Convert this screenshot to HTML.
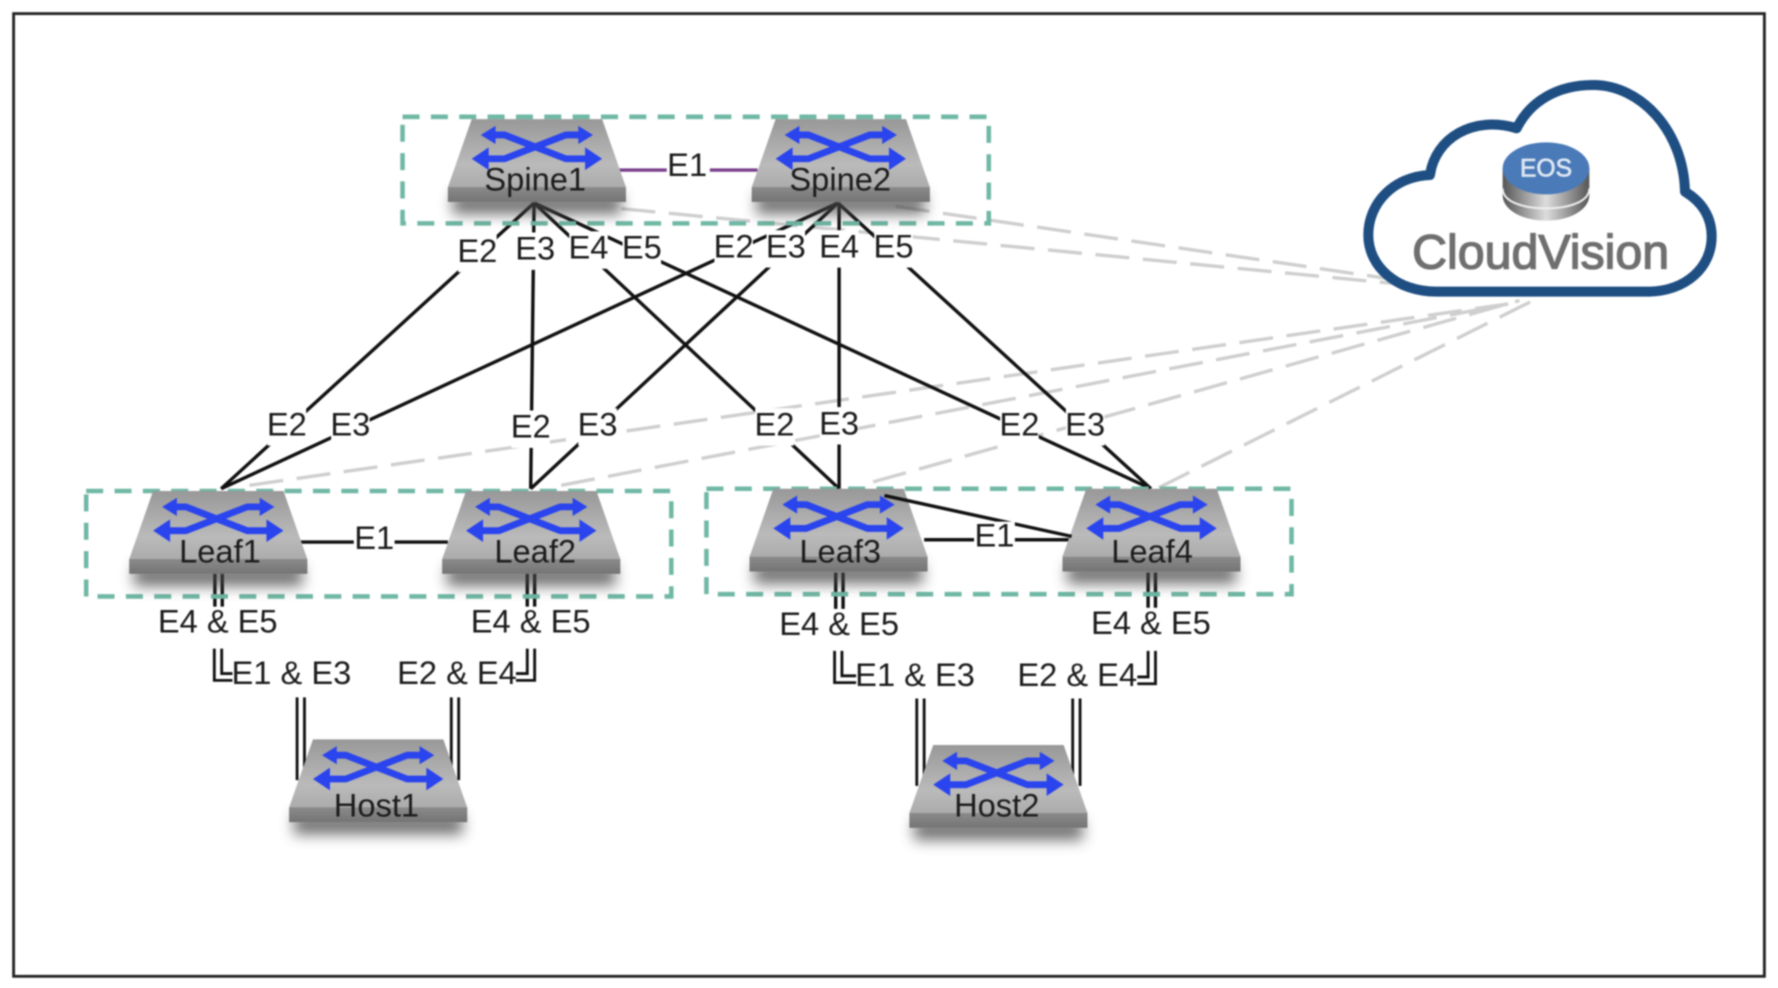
<!DOCTYPE html>
<html><head><meta charset="utf-8"><title>Network topology</title>
<style>
html,body{margin:0;padding:0;background:#fff;width:1778px;height:988px;overflow:hidden}
svg{display:block;filter:blur(.7px)}
text{font-family:"Liberation Sans",sans-serif;fill:#1c1c1c}
.l{font-size:28.8px;text-anchor:middle}
.bg{fill:#fff}
</style></head><body>
<svg width="1778" height="988" viewBox="0 0 1568 871.3" xmlns="http://www.w3.org/2000/svg">
<defs>
<linearGradient id="top" x1="0" y1="0" x2="0" y2="1"><stop offset="0" stop-color="#989898"/><stop offset=".55" stop-color="#bababa"/><stop offset="1" stop-color="#a2a2a2"/></linearGradient>
<linearGradient id="base" x1="0" y1="0" x2="0" y2="1"><stop offset="0" stop-color="#8a8a8a"/><stop offset="1" stop-color="#747474"/></linearGradient>
<linearGradient id="cyl" x1="0" y1="0" x2="1" y2="0"><stop offset="0" stop-color="#555"/><stop offset=".5" stop-color="#ddd"/><stop offset="1" stop-color="#555"/></linearGradient>
<filter id="sb" x="-20%" y="-80%" width="140%" height="300%"><feGaussianBlur stdDeviation="6"/></filter>
<g id="sw">
<rect x="4" y="66" width="149" height="18" fill="#444" opacity=".75" filter="url(#sb)"/>
<path d="M21 0H136L157 60V73H0V60Z" fill="url(#top)"/>
<rect x="0" y="60" width="157" height="13" fill="url(#base)"/>
<g fill="none" stroke="#2a44ee" stroke-width="6" stroke-linejoin="round">
<path d="M36 14H50L104 35H126"/><path d="M32 35H50L104 14H120"/>
</g>
<g fill="#2a44ee">
<path d="M29 14L42 6V22Z"/><path d="M128 14L115 6V22Z"/><path d="M21 35L36 25V45Z"/><path d="M136 35L121 25V45Z"/>
</g>
</g>
</defs>
<rect width="1568" height="872" fill="#fff"/>
<rect x="12" y="12" width="1544" height="849" fill="none" stroke="#222" stroke-width="2.5"/>

<!-- dashed management links -->
<g stroke="#cfcfcf" stroke-width="3" fill="none" stroke-dasharray="30 12">
<path d="M548 184L1250 252"/><path d="M790 182L1240 248"/>
<path d="M220 428L1330 268"/><path d="M495 428L1330 268"/><path d="M770 425L1340 265"/><path d="M1022 430L1358 262"/>
</g>

<!-- links -->
<g stroke="#111" stroke-width="3" fill="none">
<path d="M471 179L195 431"/><path d="M471 179L468 431"/><path d="M471 179L740 431"/><path d="M471 179L1015 431"/>
<path d="M739 179L195 431"/><path d="M739 179L468 431"/><path d="M740 179V431"/><path d="M739 179L1015 431"/>
<path d="M265 478H395"/><path d="M815 476H945"/>
<path d="M189.500 505V535M196 505V535M465 505V535M471.500 505V535M737 505V537M743.500 505V537M1012.500 505V536M1019 505V536"/>
</g>
<path d="M545 150H668" stroke="#7a3f8c" stroke-width="3" fill="none"/>
<g stroke="#111" stroke-width="2.500" fill="none">
<path d="M189 572V600H205M195.500 572V594H205"/>
<path d="M471.500 572V600H455M465 572V594H455"/>
<path d="M736 574V602H755M742.500 574V596H755"/>
<path d="M1019 574V603H1003M1012.500 574V597H1003"/>
<path d="M262 615V688M268.500 615V688M398 615V688M404.500 615V688"/>
<path d="M808.500 616V693M815 616V693M946 616V693M952.500 616V693"/>
</g>

<!-- groups -->
<g stroke="#70b8a5" stroke-width="4" fill="none" stroke-dasharray="15 10">
<rect x="355" y="103" width="517" height="94"/>
<rect x="76" y="433" width="516" height="93"/>
<rect x="623" y="431" width="516" height="93"/>
</g>

<!-- switches -->
<use href="#sw" x="395" y="105"/><use href="#sw" x="663" y="105"/>
<use href="#sw" x="114" y="433"/><use href="#sw" x="390" y="433"/>
<use href="#sw" x="661" y="431"/><use href="#sw" x="937" y="431"/>
<use href="#sw" x="255" y="652"/><use href="#sw" x="802" y="657"/>
<path d="M780 437L945 473" stroke="#111" stroke-width="3" fill="none"/>

<g>
<text class="l" x="472" y="168">Spine1</text><text class="l" x="741" y="168">Spine2</text>
<text class="l" x="194" y="496">Leaf1</text><text class="l" x="472" y="496">Leaf2</text>
<text class="l" x="741" y="496">Leaf3</text><text class="l" x="1016" y="496">Leaf4</text>
<text class="l" x="332" y="720">Host1</text><text class="l" x="879" y="720">Host2</text>
</g>

<!-- label backgrounds -->
<g class="bg">
<rect x="404" y="207" width="34" height="33"/><rect x="455" y="205" width="34" height="33"/><rect x="502" y="204" width="34" height="33"/><rect x="549" y="204" width="34" height="33"/>
<rect x="630" y="203" width="34" height="33"/><rect x="676" y="203" width="34" height="33"/><rect x="723" y="203" width="34" height="33"/><rect x="771" y="203" width="34" height="33"/>
<rect x="236" y="360" width="34" height="33"/><rect x="292" y="360" width="34" height="33"/><rect x="451" y="362" width="34" height="33"/><rect x="510" y="360" width="34" height="33"/>
<rect x="666" y="360" width="34" height="33"/><rect x="723" y="359" width="34" height="33"/>
<rect x="882" y="360" width="34" height="33"/><rect x="940" y="360" width="34" height="33"/>
<rect x="588" y="134" width="38" height="30"/><rect x="312" y="462" width="36" height="30"/><rect x="859" y="460" width="36" height="30"/>
</g>

<g>
<text class="l" x="606" y="155">E1</text><text class="l" x="330" y="484">E1</text><text class="l" x="877" y="482">E1</text>
<text class="l" x="421" y="231">E2</text><text class="l" x="472" y="229">E3</text><text class="l" x="519" y="228">E4</text><text class="l" x="566" y="228">E5</text>
<text class="l" x="647" y="227">E2</text><text class="l" x="693" y="227">E3</text><text class="l" x="740" y="227">E4</text><text class="l" x="788" y="227">E5</text>
<text class="l" x="253" y="384">E2</text><text class="l" x="309" y="384">E3</text><text class="l" x="468" y="386">E2</text><text class="l" x="527" y="384">E3</text>
<text class="l" x="683" y="384">E2</text><text class="l" x="740" y="383">E3</text><text class="l" x="899" y="384">E2</text><text class="l" x="957" y="384">E3</text>
<text class="l" x="192" y="558">E4 &amp; E5</text><text class="l" x="468" y="558">E4 &amp; E5</text><text class="l" x="740" y="560">E4 &amp; E5</text><text class="l" x="1015" y="559">E4 &amp; E5</text>
<text class="l" x="257" y="603">E1 &amp; E3</text><text class="l" x="403" y="603">E2 &amp; E4</text><text class="l" x="807" y="605">E1 &amp; E3</text><text class="l" x="950" y="605">E2 &amp; E4</text>
</g>

<!-- CloudVision -->
<g transform="translate(1181.700 52.900) scale(.294)">
<path d="M290 695H920C1040 695 1115 620 1115 530C1115 470 1085 425 1035 395C1030 210 900 75 760 75C650 75 570 125 530 205C400 165 285 235 270 345C160 350 85 430 85 525C85 620 170 695 290 695Z" fill="none" stroke="#1f4e82" stroke-width="30" stroke-linejoin="round"/>
<path d="M488 325V405C488 450 548 482 618 482C688 482 748 450 748 405V325Z" fill="url(#cyl)"/>
<path d="M488 385C488 425 548 445 618 445C688 445 748 425 748 385" fill="none" stroke="#eee" stroke-width="6"/>
<ellipse cx="618" cy="325" rx="130" ry="78" fill="#4a7ab8"/>
<text x="618" y="350" font-size="74" text-anchor="middle" style="fill:#dfe8f3;stroke:#dfe8f3;stroke-width:2">EOS</text>
<text x="602" y="626" font-size="145" text-anchor="middle" style="fill:#6f6f6f;stroke:#6f6f6f;stroke-width:4">CloudVision</text>
</g>
</svg>
</body></html>
